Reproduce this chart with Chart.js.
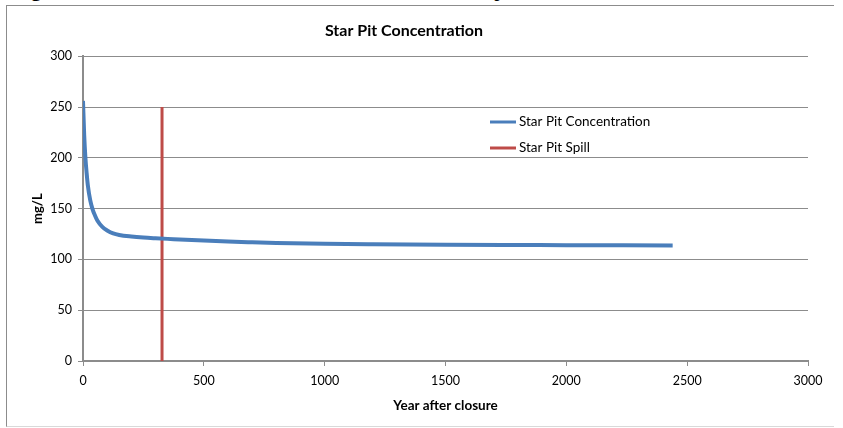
<!DOCTYPE html>
<html>
<head>
<meta charset="utf-8">
<script src="https://cdn.jsdelivr.net/npm/chart.js@4/dist/chart.umd.min.js"></script>
<style>
  html,body{margin:0;padding:0;background:#fff;overflow:hidden;}
  #wrap{position:relative;width:843px;height:428px;}
  #caption{position:absolute;left:8px;top:-26px;font:bold 24px "Liberation Sans",Arial,sans-serif;color:#000;white-space:nowrap;}
  #frame{position:absolute;left:6px;top:5px;width:827px;height:420px;border:1px solid #8c8c8c;border-bottom-color:#d9d9d9;border-right:none;background:#fff;}
  #c{position:absolute;left:0;top:0;}
</style>
</head>
<body>
<div id="wrap">
  <div id="caption">Figure 5-3: Star Pit Concentration Summary</div>
  <div id="frame"></div>
  <canvas id="c" width="843" height="428"></canvas>
</div>
<script>
// years after closure / concentration (mg/L)
const years = [0,5,10,15,20,30,40,50,60,80,100,125,150,200,250,300,350,400,500,600,700,800,1000,1200,1500,1800,2000,2200,2440];
const conc  = [256,222,200,185,173,158,149,143,138,132,128.5,125.5,124,122.5,121.5,120.8,120.2,119.7,118.5,117.5,116.8,116.2,115.3,114.8,114.3,114.1,114,113.9,113.8];

const spillYear = [327,327];
const spillConc = [0,250];

const xTicks = [0,500,1000,1500,2000,2500,3000];
const yTicks = [0,50,100,150,200,250,300];

const BLUE = "#4a7ebb", RED = "#be4b48", GRID = "#8c8c8c";
const FONT = "Lato, 'Open Sans', sans-serif";

function qs(id){ return document.getElementById(id); }

// legend sits inside the plot, drawn by hand like the original
const insideLegend = {
  id:"insideLegend",
  afterDraw(chart){
    const ctx = chart.ctx;
    const x0 = 490, rows = [122,148];
    ctx.save();
    chart.data.datasets.forEach((ds,i)=>{
      const y = rows[i];
      ctx.strokeStyle = ds.borderColor;
      ctx.lineWidth = 3;
      ctx.beginPath(); ctx.moveTo(x0,y); ctx.lineTo(x0+26,y); ctx.stroke();
      ctx.fillStyle = "#000";
      ctx.font = "13.5px " + FONT;
      ctx.textBaseline = "middle";
      ctx.fillText(ds.label, x0+29, y);
    });
    ctx.restore();
  }
};

new Chart(qs("c"),{
  type:"line",
  data:{
    datasets:[{
      label:"Star Pit Concentration",
      data:years.map((x,i)=>({x, y:conc[i]})),
      borderColor:BLUE,
      borderWidth:4,
      pointRadius:0,
      cubicInterpolationMode:"monotone"
    },{
      label:"Star Pit Spill",
      data:spillYear.map((x,i)=>({x, y:spillConc[i]})),
      borderColor:RED,
      borderWidth:3,
      pointRadius:0
    }]
  },
  options:{
    responsive:false,
    animation:false,
    layout:{padding:{left:0,right:35,top:0,bottom:0}},
    plugins:{
      legend:{display:false},
      tooltip:{enabled:false},
      title:{
        display:true,
        text:"Star Pit Concentration",
        color:"#000",
        font:{family:FONT,size:16,weight:"bold",lineHeight:1.2},
        padding:{top:21,bottom:16}
      }
    },
    scales:{
      x:{
        type:"linear",
        min:0, max:3000,
        afterBuildTicks:s=>{ s.ticks = xTicks.map(v=>({value:v})); },
        afterFit:s=>{ s.height = 67; },
        ticks:{color:"#000",font:{family:FONT,size:12.5},padding:7,maxRotation:0,callback:v=>String(v)},
        grid:{drawOnChartArea:false,drawTicks:true,tickLength:5,color:GRID},
        border:{color:GRID,width:2},
        title:{display:true,text:"Year after closure",color:"#000",
          font:{family:FONT,size:13.5,weight:"bold"},padding:{top:0,bottom:14}}
      },
      y:{
        min:0, max:300,
        afterBuildTicks:s=>{ s.ticks = yTicks.map(v=>({value:v})); },
        afterFit:s=>{ s.width = 83; },
        ticks:{color:"#000",font:{family:FONT,size:12.5},padding:6,callback:v=>String(v)},
        grid:{color:GRID,tickLength:5,lineWidth:1},
        border:{color:GRID,width:2},
        title:{display:true,text:"mg/L",color:"#000",
          font:{family:FONT,size:13,weight:"bold"},padding:{top:30,bottom:0}}
      }
    }
  },
  plugins:[insideLegend]
});
</script>
</body>
</html>
